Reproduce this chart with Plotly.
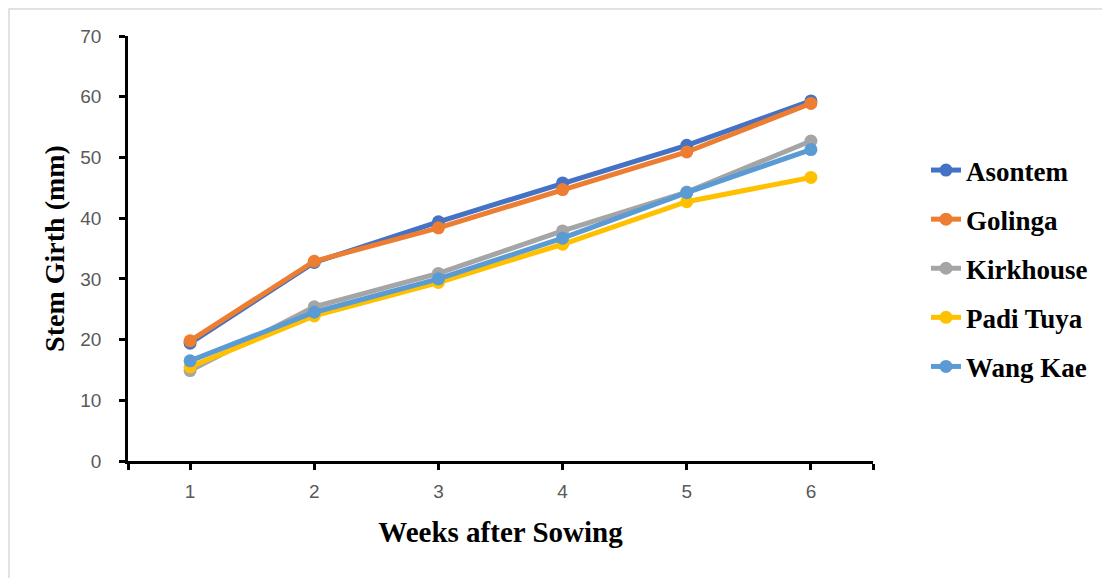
import plotly.graph_objects as go

weeks = [1, 2, 3, 4, 5, 6]
asontem = [19.4, 32.7, 39.4, 45.8, 52.0, 59.3]
golinga = [19.8, 32.9, 38.4, 44.7, 50.9, 58.9]
kirkhouse = [14.9, 25.4, 30.9, 37.9, 44.3, 52.7]
padi_tuya = [15.5, 23.9, 29.4, 35.7, 42.7, 46.7]
wang_kae = [16.5, 24.5, 30.0, 36.7, 44.2, 51.3]

series = [
    ("Asontem", asontem, "#4472C4"),
    ("Golinga", golinga, "#ED7D31"),
    ("Kirkhouse", kirkhouse, "#A5A5A5"),
    ("Padi Tuya", padi_tuya, "#FFC000"),
    ("Wang Kae", wang_kae, "#5B9BD5"),
]

fig = go.Figure()
for name, vals, col in series:
    fig.add_trace(go.Scatter(
        x=weeks, y=vals, name=name, mode="lines+markers",
        line=dict(color=col, width=5),
        marker=dict(color=col, size=13),
        legendgroup=name,
    ))

# page has an 8px body margin; figure drawn at (8, 8)
OFF = 8
W, H = 1102, 570
L, T = 128 - OFF, 36 - OFF
pw, ph = 745, 425
R, B = W - L - pw, H - T - ph

def px_x(page_x):
    return (page_x - OFF - L) / pw

def px_y(page_y):
    return (T + ph - (page_y - OFF)) / ph

fig.update_layout(
    width=W, height=H,
    margin=dict(l=L, r=R, t=T, b=B),
    paper_bgcolor="white", plot_bgcolor="white",
    showlegend=True,
    legend=dict(
        x=px_x(926), xanchor="left",
        y=px_y(172 - 26), yanchor="top",
        font=dict(family="Liberation Serif", size=27, color="black", weight="bold"),
        tracegroupgap=11,
        bgcolor="rgba(0,0,0,0)",
    ),
    xaxis=dict(
        range=[0.5, 6.5],
        tickvals=[0.5, 1, 2, 3, 4, 5, 6, 6.5],
        ticktext=["", "1", "2", "3", "4", "5", "6", ""],
        showline=True, linecolor="black", linewidth=2.5,
        ticks="outside", ticklen=6, tickwidth=2.5, tickcolor="black",
        showgrid=False, zeroline=False,
        tickfont=dict(family="Liberation Sans", size=19, color="#595959"),
        ticklabelstandoff=5,
        title=dict(text="Weeks after Sowing",
                   font=dict(family="Liberation Serif", size=29, color="black", weight="bold"),
                   standoff=22),
    ),
    yaxis=dict(
        range=[0, 70], dtick=10,
        showline=True, linecolor="black", linewidth=2.5,
        ticks="outside", ticklen=6, tickwidth=2.5, tickcolor="black",
        showgrid=False, zeroline=False,
        tickfont=dict(family="Liberation Sans", size=19, color="#595959"),
        ticklabelstandoff=14,
        title=dict(text="Stem Girth (mm)",
                   font=dict(family="Liberation Serif", size=28, color="black", weight="bold"),
                   standoff=8),
    ),
    shapes=[dict(
        type="rect", xref="paper", yref="paper",
        x0=(1 - L) / pw, x1=1.6, y0=-0.6, y1=(T + ph - 1) / ph,
        line=dict(color="#D9D9D9", width=1.5), fillcolor="rgba(0,0,0,0)",
        layer="below",
    )],
)

fig.write_html("out.html")
